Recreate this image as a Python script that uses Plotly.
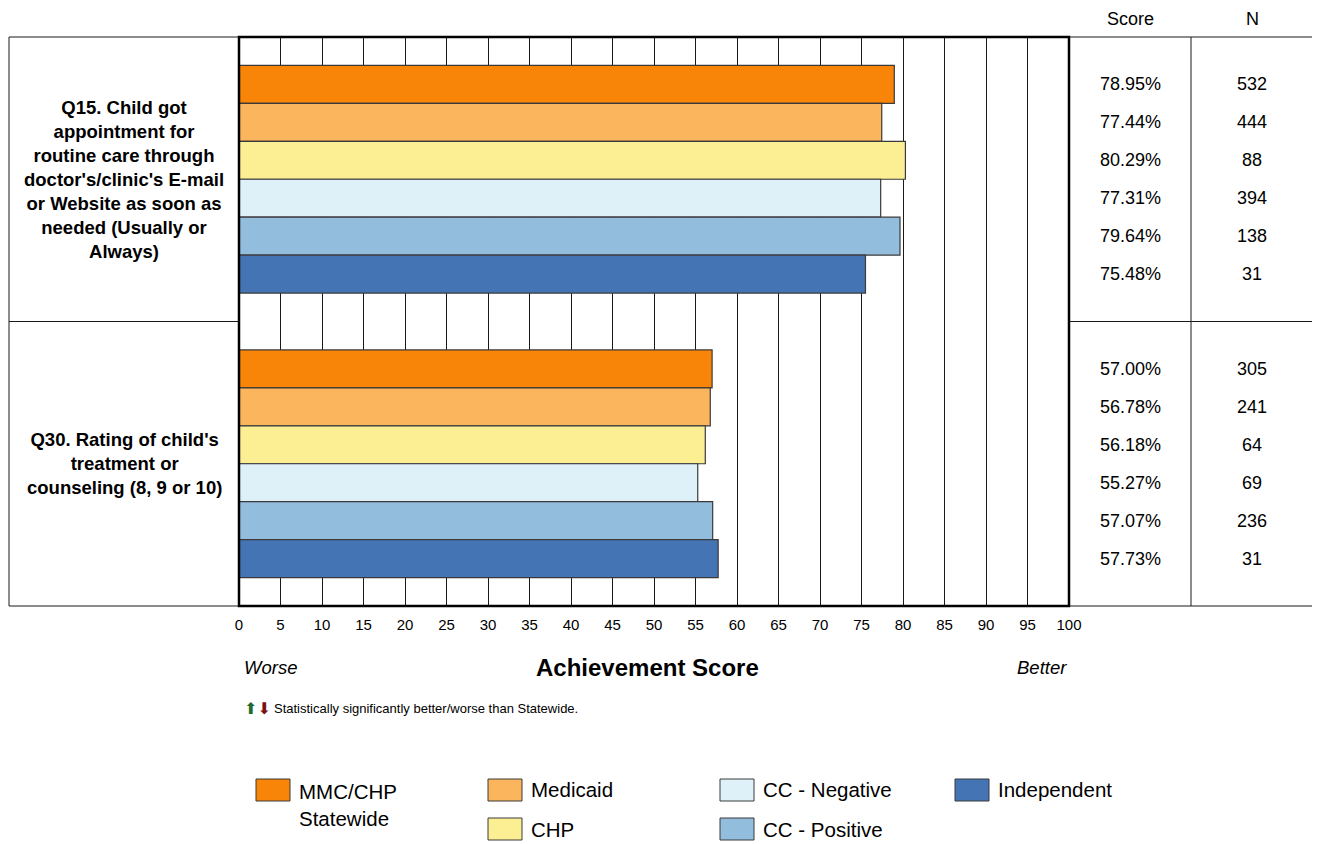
import plotly.graph_objects as go

# ---------------- data ----------------
questions = ["Q15", "Q30"]
question_labels = [
    "Q15. Child got<br>appointment for<br>routine care through<br>doctor's/clinic's E-mail<br>or Website as soon as<br>needed (Usually or<br>Always)",
    "Q30. Rating of child's<br>treatment or<br>counseling (8, 9 or 10)",
]
series_names = ["MMC/CHP Statewide", "Medicaid", "CHP", "CC - Negative", "CC - Positive", "Independent"]
legend_labels = ["MMC/CHP<br>Statewide", "Medicaid", "CHP", "CC - Negative", "CC - Positive", "Independent"]
series_colors = ["#F98508", "#FBB55C", "#FCEE93", "#DFF1F8", "#93BDDC", "#4574B4"]

mmc_statewide = [78.95, 57.00]
medicaid = [77.44, 56.78]
chp = [80.29, 56.18]
cc_negative = [77.31, 55.27]
cc_positive = [79.64, 57.07]
independent = [75.48, 57.73]
series_values = [mmc_statewide, medicaid, chp, cc_negative, cc_positive, independent]

n_mmc_statewide = [532, 305]
n_medicaid = [444, 241]
n_chp = [88, 64]
n_cc_negative = [394, 69]
n_cc_positive = [138, 236]
n_independent = [31, 31]
series_n = [n_mmc_statewide, n_medicaid, n_chp, n_cc_negative, n_cc_positive, n_independent]

x_ticks = list(range(0, 101, 5))

# ---------------- layout helpers ----------------
OFF = 8  # page body margin
W, H = 1320 - OFF, 844 - OFF
L, R, T, B = 239, 1069, 37, 606  # reference pixel positions of the plot area
FONT = "Liberation Sans, Arial, sans-serif"


def px(xp):
    return (xp - L) / (R - L)


def py(yp):
    return (B - yp) / (B - T)


fig = go.Figure()
for name, vals, col in zip(series_names, series_values, series_colors):
    fig.add_trace(go.Bar(
        y=questions, x=vals, name=name, orientation="h",
        marker=dict(color=col, line=dict(color="#3A3A3A", width=1.2)),
        showlegend=False,
    ))

bargap = 0.2
nser = len(series_names)
annotations = []
shapes = []

# table values
for k in range(len(questions)):
    for i in range(nser):
        yy = k - (1 - bargap) / 2 + (i + 0.5) * (1 - bargap) / nser
        annotations.append(dict(x=px(1130), y=yy, xref="paper", yref="y", xanchor="center",
                                yanchor="middle", text=f"{series_values[i][k]:.2f}%", showarrow=False,
                                font=dict(size=18, color="#000")))
        annotations.append(dict(x=px(1252), y=yy, xref="paper", yref="y", xanchor="center",
                                yanchor="middle", text=str(series_n[i][k]), showarrow=False,
                                font=dict(size=18, color="#000")))
    annotations.append(dict(x=px(124), y=k, xref="paper", yref="y", xanchor="center",
                            yanchor="middle", text="<b>" + question_labels[k] + "</b>", showarrow=False,
                            align="center", font=dict(size=18.5, color="#000")))

# headers (anchored to the very top of the figure so they are not cut)
top_y = py(OFF)
annotations.append(dict(x=px(1130), y=top_y, xref="paper", yref="paper", text="Score",
                        xanchor="center", yanchor="top", borderpad=0, showarrow=False,
                        font=dict(size=18, color="#000")))
annotations.append(dict(x=px(1252), y=top_y, xref="paper", yref="paper", text="N",
                        xanchor="center", yanchor="top", borderpad=0, showarrow=False,
                        font=dict(size=18, color="#000")))

# axis captions
annotations.append(dict(x=px(242), y=py(667), xref="paper", yref="paper", text="<i>Worse</i>",
                        xanchor="left", yanchor="middle", showarrow=False,
                        font=dict(size=18.5, color="#000")))
annotations.append(dict(x=px(647), y=py(667), xref="paper", yref="paper", text="<b>Achievement Score</b>",
                        xanchor="center", yanchor="middle", showarrow=False,
                        font=dict(size=24, color="#000")))
annotations.append(dict(x=px(1069), y=py(667), xref="paper", yref="paper", text="<i>Better</i>",
                        xanchor="right", yanchor="middle", showarrow=False,
                        font=dict(size=18.5, color="#000")))

# footnote
annotations.append(dict(x=px(242), y=py(708), xref="paper", yref="paper",
                        text="<span style='color:#1E6B2E'>⬆</span><span style='color:#7A1010'>⬇</span>",
                        xanchor="left", yanchor="middle", showarrow=False,
                        font=dict(size=16, family="DejaVu Sans")))
annotations.append(dict(x=px(272), y=py(708), xref="paper", yref="paper",
                        text="Statistically significantly better/worse than Statewide.",
                        xanchor="left", yanchor="middle", showarrow=False,
                        font=dict(size=13, color="#000")))

# legend (custom grid)
legend_pos = [(256, 779), (488, 779), (488, 818), (720, 779), (720, 818), (955, 779)]
for (lx, ly), lab, col in zip(legend_pos, legend_labels, series_colors):
    shapes.append(dict(type="rect", xref="paper", yref="paper",
                       x0=px(lx), x1=px(lx + 34), y0=py(ly), y1=py(ly + 22),
                       fillcolor=col, line=dict(color="#3A3A3A", width=1)))
    if "<br>" in lab:
        annotations.append(dict(x=px(lx + 41), y=py(ly - 1), xref="paper", yref="paper", text=lab,
                                xanchor="left", yanchor="top", align="left", showarrow=False,
                                font=dict(size=20.5, color="#000")))
    else:
        annotations.append(dict(x=px(lx + 41), y=py(ly + 11), xref="paper", yref="paper", text=lab,
                                xanchor="left", yanchor="middle", showarrow=False,
                                font=dict(size=20.5, color="#000")))

# table frame / label box
lc = "#1A1A1A"
shapes += [
    dict(type="rect", xref="paper", yref="paper", x0=px(9), x1=0, y0=0, y1=1,
         line=dict(color=lc, width=1), layer="below"),
    dict(type="rect", xref="paper", yref="paper", x0=1, x1=px(1314), y0=0, y1=1,
         line=dict(color=lc, width=1), layer="below"),
    dict(type="line", xref="paper", yref="paper", x0=px(1191), x1=px(1191), y0=0, y1=1,
         line=dict(color=lc, width=1)),
    dict(type="line", xref="paper", yref="paper", x0=px(9), x1=0, y0=0.5, y1=0.5,
         line=dict(color=lc, width=1)),
    dict(type="line", xref="paper", yref="paper", x0=1, x1=px(1314), y0=0.5, y1=0.5,
         line=dict(color=lc, width=1)),
    dict(type="rect", xref="paper", yref="paper", x0=0, x1=1, y0=0, y1=1,
         line=dict(color="#000", width=2.5)),
]

fig.update_layout(
    width=W, height=H,
    margin=dict(l=L - OFF, r=1320 - R, t=T - OFF, b=844 - B, pad=0),
    paper_bgcolor="white", plot_bgcolor="white",
    barmode="group", bargap=bargap, bargroupgap=0,
    font=dict(family=FONT, color="#000"),
    xaxis=dict(range=[0, 100], tickvals=x_ticks, ticktext=[str(v) for v in x_ticks],
               showgrid=True, gridcolor="#1A1A1A", gridwidth=1, zeroline=False,
               showline=False, ticks="", ticklabelstandoff=8,
               tickfont=dict(size=15, color="#000")),
    yaxis=dict(range=[1.5, -0.5], showticklabels=False, showgrid=False, zeroline=False,
               ticks="", type="category"),
    annotations=annotations, shapes=shapes, showlegend=False,
)

fig.write_html("out.html")
